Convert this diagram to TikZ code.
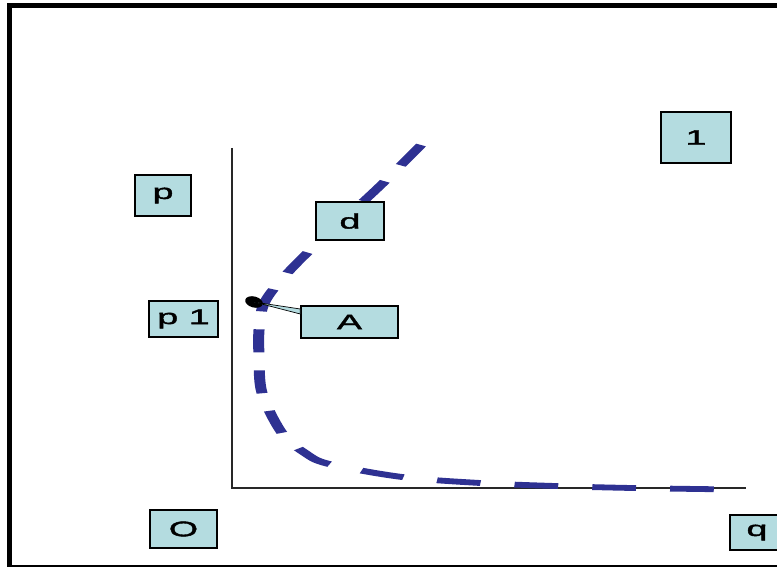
\documentclass[tikz,border=0pt]{standalone}
\usepackage{fontspec}
\newfontfamily\boxfont[FakeStretch=1.8,FakeBold=2]{Liberation Sans}
\usetikzlibrary{shapes.geometric}
\definecolor{boxfill}{RGB}{180,220,224}
\definecolor{curveblue}{RGB}{46,49,146}
\definecolor{axisgray}{RGB}{40,40,40}
\tikzset{
  label box/.style={draw=black, line width=1.4pt, fill=boxfill, inner sep=0pt,
    font=\boxfont\fontsize{21}{21}\selectfont},
  demand/.style={draw=curveblue, line width=5.8pt, dash pattern=on 23pt off 18pt},
  axis/.style={draw=axisgray, line width=2pt},
}
\begin{document}
\begin{tikzpicture}[x=1pt, y=-1pt]
\useasboundingbox (0,0) rectangle (777,567);
\clip (0,0) rectangle (777,567);
% outer frame, open past the right edge
\draw[line width=5pt] (9,6) rectangle (800,567.5);

% axes
\coordinate (top) at (232,148);
\coordinate (orig) at (232,488);
\coordinate (qend) at (746,488);
\draw[axis] (top) -- (orig) -- (qend);

% the curve, drawn narrow and stretched sideways
\begin{scope}[transform canvas={xscale=1.9}, x=0.526316pt]
\draw[demand] plot[smooth, tension=0.55] coordinates {
  (421,145) (381,185) (341,222) (302,258) (276,286) (263,306)
  (259,330) (259,355) (262,393) (282,433) (305,453) (329,464)
  (402,477) (480,483) (555,486) (632,488) (735,489.5)};
\end{scope}

% labels
\node[label box, minimum width=56pt, minimum height=41pt] (p)  at (163,195.5) {p};
\node[label box, minimum width=69pt, minimum height=36pt] (p1) at (183.5,319) {p 1};
\node[label box, minimum width=68pt, minimum height=38pt] (d)  at (350,221) {d};
\node[label box, minimum width=70pt, minimum height=51pt] (one) at (696,137.5) {1};
\node[label box, minimum width=67pt, minimum height=38pt] (zero) at (183.5,529) {O};
\node[label box, minimum width=54pt, minimum height=35pt] (q)  at (757,532.5) {q};
\node[label box, minimum width=97pt, minimum height=32pt] (A)  at (349.5,322) {A};

% point A with its pointer
\node[ellipse, fill=black, inner sep=0pt, minimum width=18pt, minimum height=11pt,
  rotate=-15] (dot) at (254,302) {};
\draw[line width=0.7pt, fill=boxfill]
  (dot.center) -- ([yshift=13pt]A.west) -- ([yshift=8pt]A.west) -- cycle;
\end{tikzpicture}
\end{document}
